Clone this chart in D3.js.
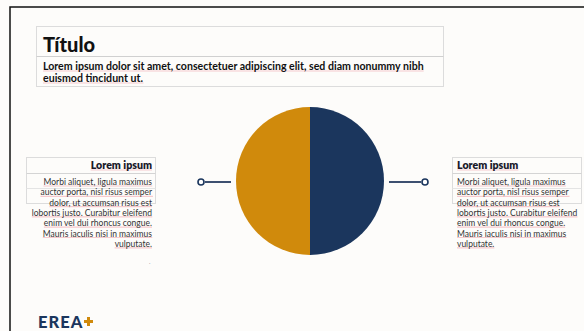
<!DOCTYPE html>
<html>
<head>
<meta charset="utf-8">
<script src="https://cdn.jsdelivr.net/npm/d3@7"></script>
<style>
  body { margin: 0; background: #fdfcfa; }
  svg { display: block; font-family: Lato, "DejaVu Sans", sans-serif; }
</style>
</head>
<body>
<div id="chart"></div>
<script>
var titleText = "Título";
var subtitleLines = ["Lorem ipsum dolor sit amet, consectetuer adipiscing elit, sed diam nonummy nibh",
                     "euismod tincidunt ut."];
var sliceNames = ["Derecha", "Izquierda"];
var sliceValues = [50, 50];
var sliceColors = ["#1b365d", "#d08a0c"];
var boxHeaders = ["Lorem ipsum", "Lorem ipsum"];
var boxLines = ["Morbi aliquet, ligula maximus",
                "auctor porta, nisl risus semper",
                "dolor, ut accumsan risus est",
                "lobortis justo. Curabitur eleifend",
                "enim vel dui rhoncus congue.",
                "Mauris iaculis nisi in maximus",
                "vulputate."];

var w = 584, h = 331;
var svg = d3.select("#chart").append("svg").attr("width", w).attr("height", h);

// frame
svg.append("path").attr("d", "M10," + h + "V7H" + w)
  .attr("fill", "none").attr("stroke", "#111").attr("stroke-width", 1.5);

// pink spell-check style underline under a text node
function underline(sel) {
  sel.each(function() {
    var bb = this.getBBox();
    d3.select(this.parentNode).insert("line", ":first-child")
      .attr("x1", bb.x).attr("x2", bb.x + bb.width)
      .attr("y1", bb.y + bb.height - 1).attr("y2", bb.y + bb.height - 1)
      .attr("stroke", "#f6c9cd").attr("stroke-width", 1.2);
  });
}

// title box
var tb = svg.append("g");
tb.append("rect").attr("x", 36.5).attr("y", 26.5).attr("width", 407).attr("height", 60)
  .attr("fill", "none").attr("stroke", "#dcdcdc");
tb.append("line").attr("x1", 36.5).attr("x2", 443.5).attr("y1", 56.5).attr("y2", 56.5).attr("stroke", "#d0d0d0");
tb.append("text").attr("x", 43).attr("y", 52).attr("font-size", 20).attr("font-weight", 900)
  .attr("fill", "#111").text(titleText);
tb.selectAll(".sub").data(subtitleLines).enter().append("text")
  .attr("x", 43).attr("y", function(d, i) { return 70 + i * 12; })
  .attr("font-size", 10.6).attr("font-weight", 700).attr("fill", "#111")
  .text(function(d) { return d; })
  .call(underline);

// pie
var cx = 310, cy = 181, r = 74;
var pie = d3.pie().sort(null)(sliceValues);
var arc = d3.arc().innerRadius(0).outerRadius(r);
svg.append("g").attr("transform", "translate(" + cx + "," + cy + ")")
  .selectAll("path").data(pie).enter().append("path")
  .attr("d", arc)
  .attr("fill", function(d, i) { return sliceColors[i]; });

// connectors
var conn = [{x1: 205, x2: 231, cx: 201}, {x1: 389, x2: 421, cx: 425}];
conn.forEach(function(c) {
  svg.append("line").attr("x1", c.x1).attr("x2", c.x2).attr("y1", 182).attr("y2", 182)
    .attr("stroke", "#3d5070").attr("stroke-width", 2);
  svg.append("circle").attr("cx", c.cx).attr("cy", 182).attr("r", 3)
    .attr("fill", "#fff").attr("stroke", "#1b365d").attr("stroke-width", 1.6);
});

// text boxes
var boxes = [{x: 26.5, anchor: "end", tx: 152}, {x: 452.5, anchor: "start", tx: 457}];
boxes.forEach(function(b, k) {
  var g = svg.append("g");
  g.append("rect").attr("x", b.x).attr("y", 157.5).attr("width", 129).attr("height", 46)
    .attr("fill", "none").attr("stroke", "#dcdcdc");
  g.append("line").attr("x1", b.x).attr("x2", b.x + 129).attr("y1", 173.5).attr("y2", 173.5).attr("stroke", "#d4d4d4");
  g.append("line").attr("x1", b.x).attr("x2", b.x + 129).attr("y1", 188.5).attr("y2", 188.5).attr("stroke", "#e4e4e4");
  g.append("text").attr("x", b.tx).attr("y", 169).attr("text-anchor", b.anchor)
    .attr("font-size", 10.6).attr("font-weight", 800).attr("fill", "#1a1a2a").text(boxHeaders[k])
    .call(underline);
  g.selectAll(".l").data(boxLines).enter().append("text")
    .attr("x", b.tx).attr("y", function(d, i) { return 185 + i * 10.3; })
    .attr("text-anchor", b.anchor).attr("font-size", 8.5).attr("fill", "#333")
    .text(function(d) { return d; })
    .call(underline);
});
svg.append("text").attr("x", 149).attr("y", 264).attr("font-size", 6).attr("fill", "#888").text(".");

// logo
var logo = svg.append("g");
logo.append("text").attr("x", 38).attr("y", 327.5).attr("font-size", 16.5).attr("font-weight", 900)
  .attr("letter-spacing", 1).attr("fill", "#1b365d").text("EREA");
logo.append("path").attr("d", "M87,317h3v3h3v3h-3v3h-3v-3h-3v-3h3z").attr("fill", "#d08a0c");
</script>
</body>
</html>
